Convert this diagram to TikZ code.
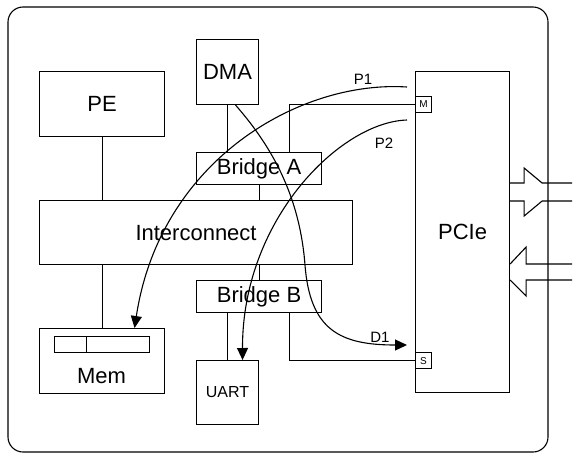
\documentclass[tikz,border=0pt]{standalone}
\usepackage{fontspec}
\setmainfont{Liberation Sans}
\usetikzlibrary{arrows.meta}

\begin{document}
\begin{tikzpicture}[x=1pt, y=-1pt, line width=1.1pt, every node/.style={font=\fontsize{22}{26}\selectfont},
  b/.style={draw, anchor=north west, inner sep=0pt},
  p/.style={draw, fill=white, anchor=north west, inner sep=0pt, minimum size=16pt, font=\fontsize{10}{12}\selectfont},
  l/.style={font=\fontsize{15}{18}\selectfont},
  a/.style={-{Triangle[length=12pt, width=11pt]}}]
\useasboundingbox (0,0) rectangle (575,453);
\draw[rounded corners=15pt] (8,7) rectangle (548,452);
\node[b, minimum width=125pt, minimum height=65pt] (pe) at (39,71) {PE};
\node[b, minimum width=62pt, minimum height=65pt] (dma) at (196,39) {DMA};
\node[b, minimum width=125pt, minimum height=32pt] (bra) at (196,152) {Bridge A};
\node[b, minimum width=313pt, minimum height=64pt] (ic) at (39,200) {Interconnect};
\node[b, minimum width=125pt, minimum height=32pt] (brb) at (196,280) {Bridge B};
\node[b, minimum width=62pt, minimum height=64pt, font=\fontsize{16}{19}\selectfont] (uart) at (196,360) {UART};
\node[b, minimum width=125pt, minimum height=65pt] (mem) at (39,328) {};
\node[b, minimum width=32pt, minimum height=16pt] (cella) at (54,336) {};
\node[b, minimum width=63pt, minimum height=16pt] (cellb) at (86,336) {};
\node (memlbl) at (101.5,376) {Mem};
\node[b, minimum width=94pt, minimum height=321pt] (pcie) at (415,71) {PCIe};
\node[p] (m) at (415,96) {M};
\node[p] (s) at (415,352) {S};
\draw (pe) -- (pe.south |- ic.north); \draw (ic.south -| mem.north) -- (mem);
\draw (dma.south) -- (dma.south |- bra.north); \draw (bra) -- (bra.south |- ic.north);
\draw (ic.south -| brb.north) -- (brb); \draw (uart.north |- brb.south) -- (uart);
\draw (m.west) -| ([xshift=30.5pt]bra.north);
\draw ([xshift=30.5pt]brb.south) |- (s.west);
\draw (pcie.north east) ++(0,112) -- ++(14,0) -- ++(0,-15) -- ++(18,15) -- ++(30,0);
\draw (pcie.north east) ++(0,130) -- ++(14,0) -- ++(0,15) -- ++(18,-15) -- ++(30,0);
\draw (pcie.north east) ++(0,193) -- ++(16,-17) -- ++(0,17) -- ++(46,0);
\draw (pcie.north east) ++(0,209) -- ++(16,16) -- ++(0,-16) -- ++(46,0);
\coordinate (p1s) at (407,87);
\coordinate (p2s) at (407,120);
\coordinate (d1e) at (407,345);
\draw[a] (p1s) .. controls (300,80) and (160,160) .. ([xshift=32.5pt]mem.north);
\draw[a] (p2s) .. controls (340,122) and (242,220) .. ([xshift=15pt]uart.north);
\draw[a] ([xshift=8pt]dma.south) .. controls (275,150) and (300,200) .. (305,265) .. controls (310,330) and (340,345) .. (d1e);
\node[l] (p1) at (363,79) {P1};
\node[l] (p2) at (384,143) {P2};
\node[l] (d1) at (380,337) {D1};
\end{tikzpicture}
\end{document}
